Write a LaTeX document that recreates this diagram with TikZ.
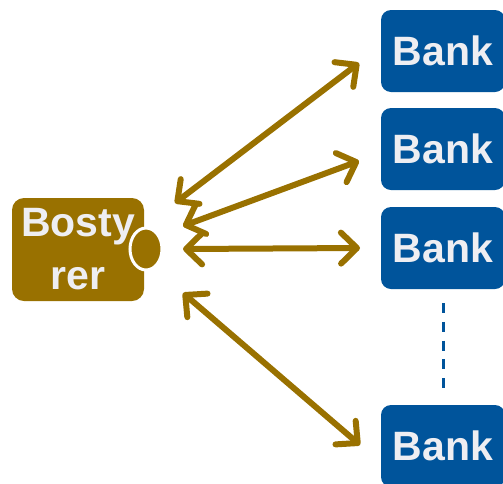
\documentclass[tikz,border=0pt]{standalone}
\usepackage{fontspec}
\setmainfont{Liberation Sans}
\usetikzlibrary{arrows.meta,shapes.geometric}
\definecolor{olive}{RGB}{153,113,0}
\definecolor{bankblue}{RGB}{0,84,155}
\definecolor{paper}{RGB}{238,238,242}
\begin{document}
\begin{tikzpicture}[x=1pt,y=-1pt]
   \tikzset{bank/.style = {shape=rectangle,rounded corners=10pt,fill=bankblue,text=paper,
                           minimum width=124pt,minimum height=82pt,inner sep=0pt,
                           font=\fontsize{41}{49}\selectfont\bfseries},
            bostyrer/.style = {shape=rectangle,rounded corners=12pt,fill=olive,text=paper,
                           minimum width=132pt,minimum height=103pt,inner sep=0pt,align=center,
                           font=\fontsize{41}{53}\selectfont\bfseries},
            port/.style = {shape=ellipse,fill=olive,draw=white,line width=3pt,
                           minimum width=32pt,minimum height=42pt,inner sep=0pt},
            link/.style = {draw=olive,line width=6pt,
                           {Straight Barb[length=16pt,width=31pt,round]}-{Straight Barb[length=16pt,width=31pt,round]}}}
   \useasboundingbox (0,0) rectangle (503,483);

   \node[bostyrer] (bo) at (78,249.5) {Bosty\\rer};
   \node[port] (port) at (146,249) {};

   \node[bank] (bank1) at (443,51) {Bank};
   \node[bank] (bank2) at (443,149) {Bank};
   \node[bank] (bank3) at (443,248) {Bank};
   \node[bank] (bank4) at (443,446) {Bank};

   \coordinate (in1) at (175,203);
   \coordinate (in2) at (183,226);
   \coordinate (in3) at (183,249);
   \coordinate (in4) at (183,293);
   \coordinate (out1) at (359,63);
   \coordinate (out2) at (359,161);
   \coordinate (out3) at (360,248);
   \coordinate (out4) at (360,445);

   \draw[link] (in1) -- (out1);
   \draw[link] (in2) -- (out2);
   \draw[link] (in3) -- (out3);
   \draw[link] (in4) -- (out4);

   \draw[bankblue,line width=3pt,dash pattern=on 10pt off 8.75pt] (bank3.south |- 0,303) -- (bank4.north |- 0,388);
\end{tikzpicture}
\end{document}
